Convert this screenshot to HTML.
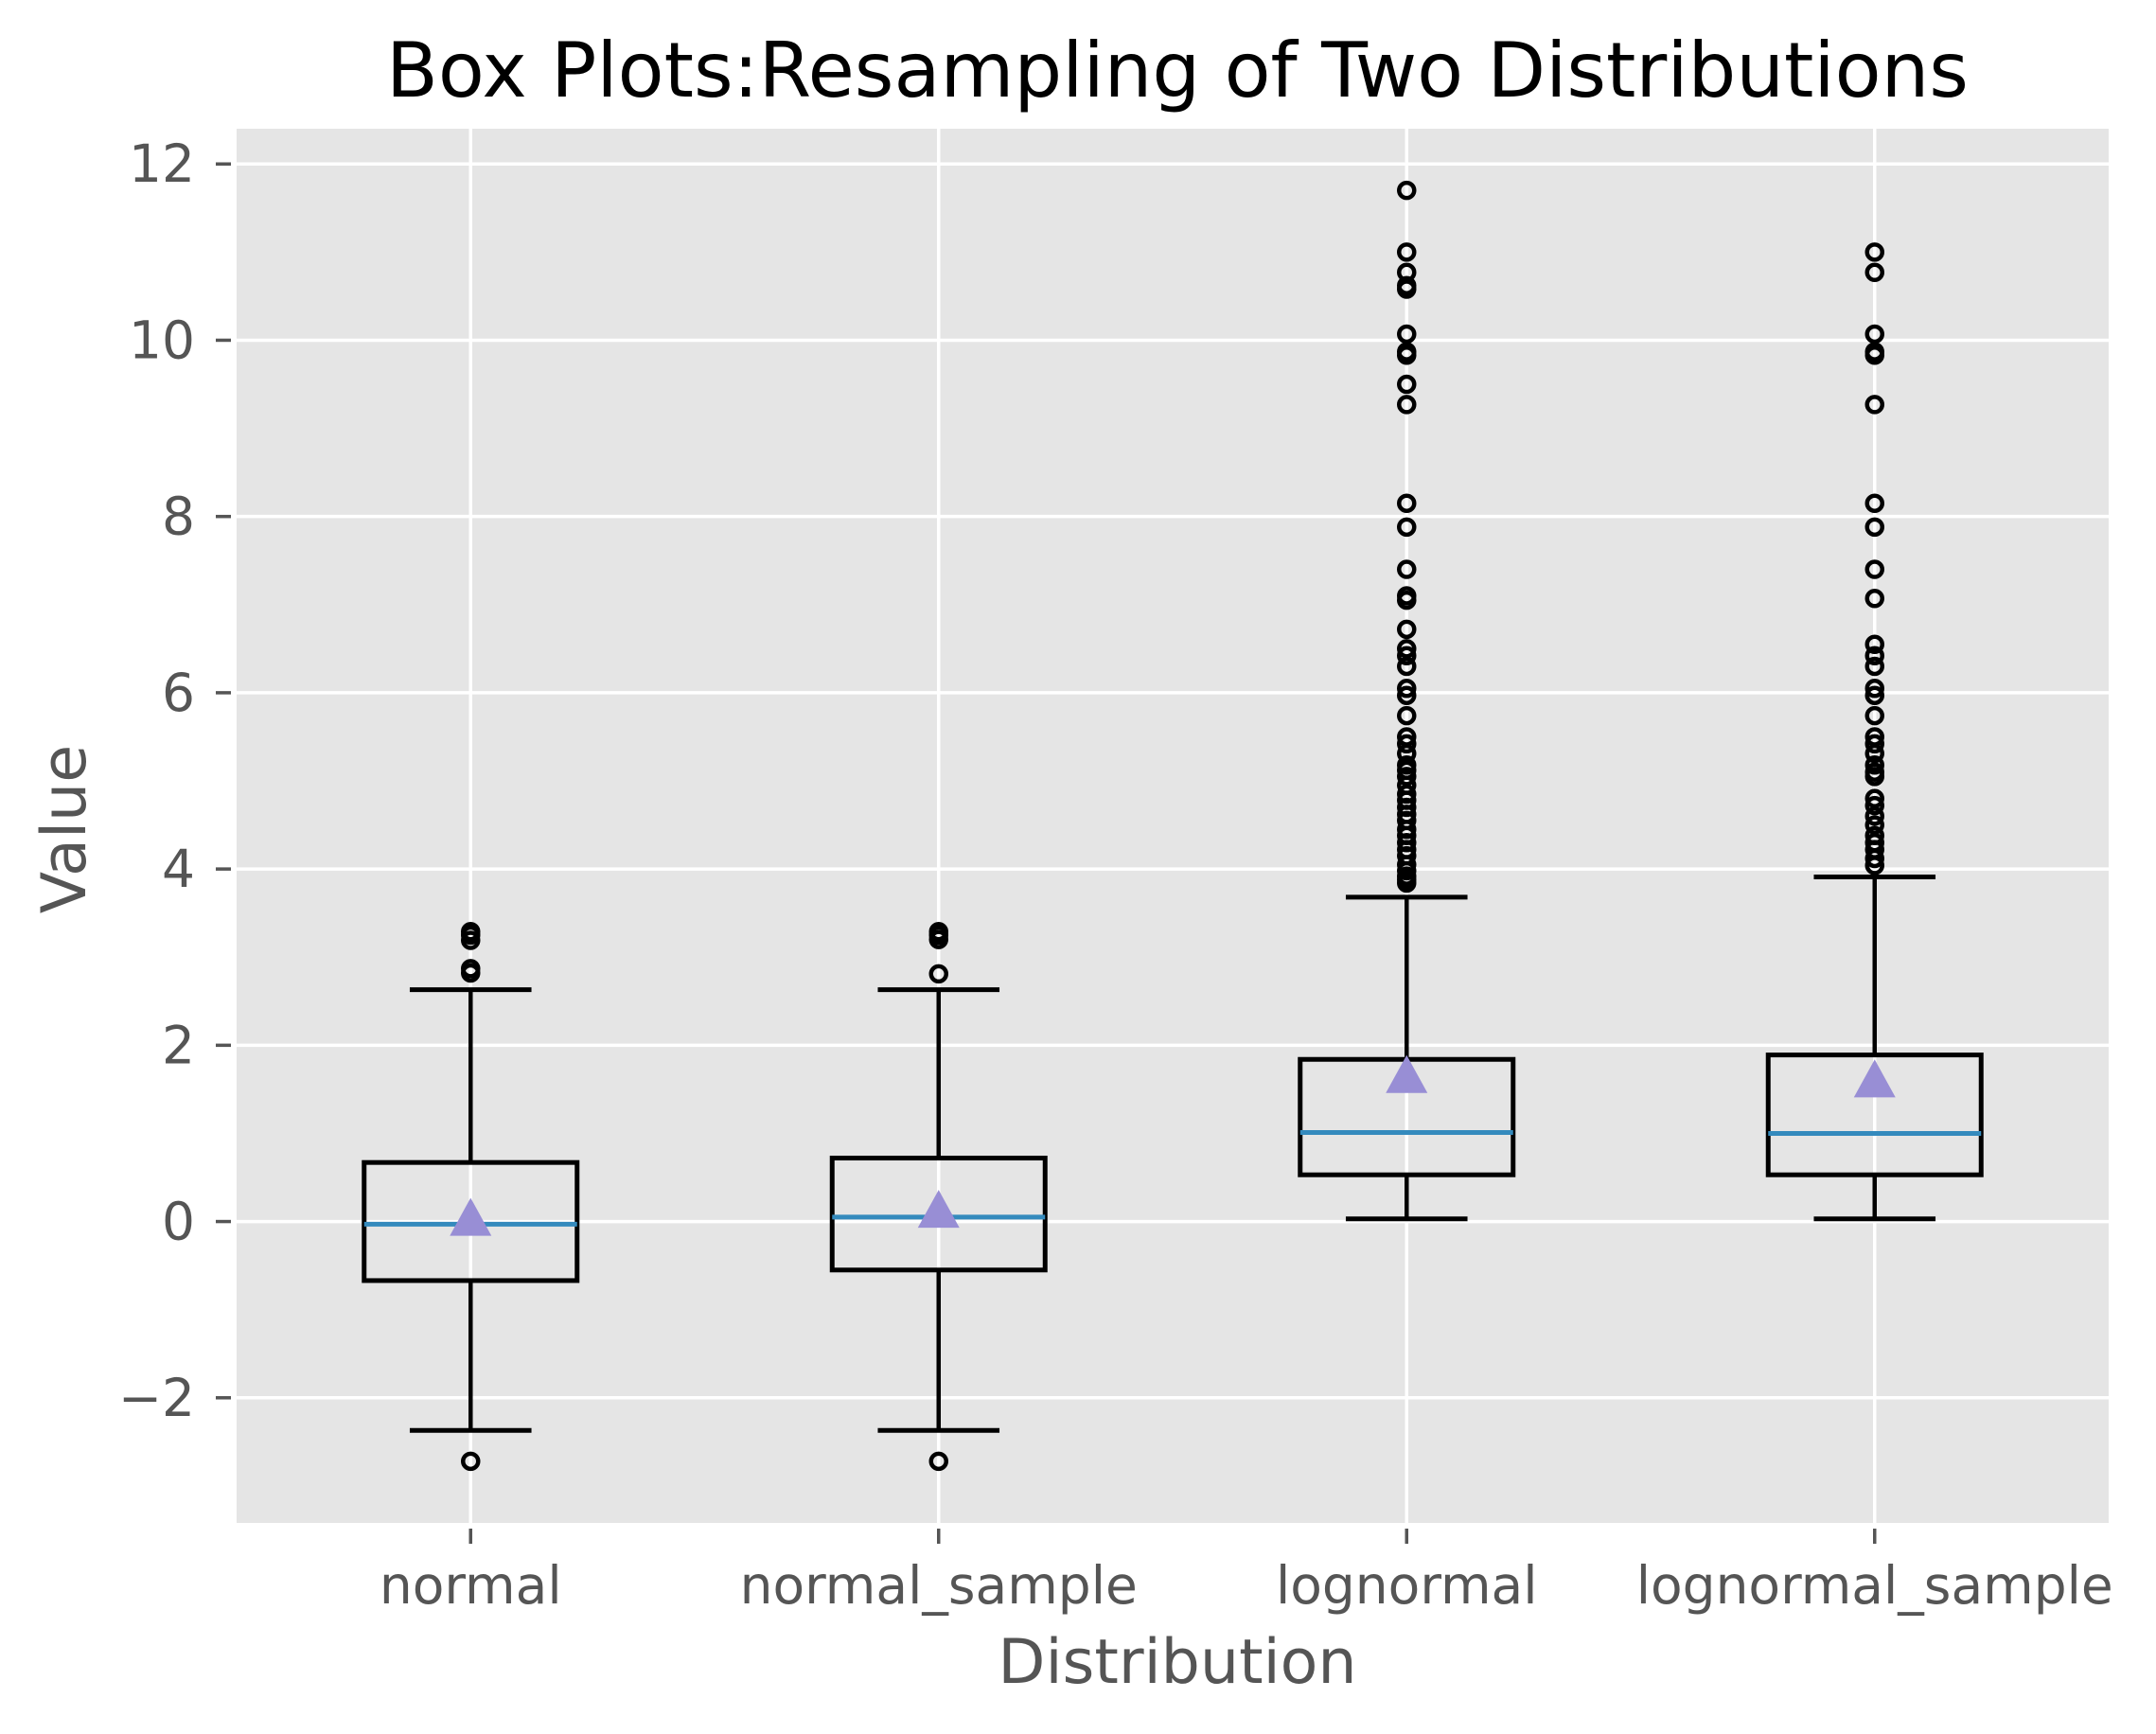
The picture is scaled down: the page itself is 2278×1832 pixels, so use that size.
<!DOCTYPE html>
<html><head><meta charset="utf-8"><title>Box Plots</title>
<style>html,body{margin:0;padding:0;background:#fff}svg{display:block}text{font-family:"DejaVu Sans","Liberation Sans",sans-serif}</style>
</head><body>
<svg id="chart" width="2278" height="1832" viewBox="0 0 2278 1832" xmlns="http://www.w3.org/2000/svg">
<rect x="250" y="136" width="1978" height="1473" fill="#E5E5E5"/>
<g id="grid"></g>
<g id="marks"></g>
<g id="axes"></g>
<text x="1244" y="102" font-size="80" text-anchor="middle" fill="#000">Box Plots:Resampling of Two Distributions</text>
<text x="1244" y="1778" font-size="65" text-anchor="middle" fill="#555">Distribution</text>
<text x="0" y="0" font-size="65" text-anchor="middle" fill="#555" transform="translate(90,876) rotate(-90)">Value</text>
</svg>
<script>
const categories = ["normal","normal_sample","lognormal","lognormal_sample"];
const q1s = [-0.67, -0.55, 0.53, 0.53];
const q3s = [0.67, 0.72, 1.84, 1.89];
const medians = [-0.03, 0.05, 1.01, 1.00];
const means = [0.0, 0.09, 1.62, 1.57];
const whiskerLow = [-2.37, -2.37, 0.03, 0.03];
const whiskerHigh = [2.63, 2.63, 3.68, 3.91];
const outliersNormal = [3.29, 3.25, 3.19, 2.87, 2.82, -2.72];
const outliersNormalSample = [3.29, 3.25, 3.2, 2.81, -2.72];
const outliersLognormal = [11.7, 11.0, 10.77, 10.62, 10.58, 10.07, 9.87, 9.83, 9.5, 9.27, 8.15, 7.88, 7.4, 7.1, 7.05, 6.72, 6.5, 6.42, 6.3, 6.05, 5.97, 5.74, 5.5, 5.42, 5.31, 5.18, 5.12, 5.05, 4.95, 4.85, 4.78, 4.7, 4.62, 4.55, 4.45, 4.38, 4.3, 4.22, 4.15, 4.05, 3.98, 3.92, 3.88, 3.84];
const outliersLognormalSample = [11.0, 10.77, 10.07, 9.87, 9.83, 9.27, 8.15, 7.88, 7.4, 7.07, 6.55, 6.42, 6.3, 6.05, 5.97, 5.74, 5.5, 5.42, 5.31, 5.18, 5.1, 5.05, 4.8, 4.72, 4.6, 4.5, 4.38, 4.3, 4.22, 4.12, 4.04];
const yTicks = [-2, 0, 2, 4, 6, 8, 10, 12];
const yTickLabels = ["\u22122", "0", "2", "4", "6", "8", "10", "12"];

const outliers = [outliersNormal, outliersNormalSample, outliersLognormal, outliersLognormalSample];
const NS = "http://www.w3.org/2000/svg";
const L = 250, R = 2228, T = 136, B = 1609;
const yMin = -3.42, yMax = 12.4;
function yScale(v){ return B - (v - yMin) / (yMax - yMin) * (B - T); }
function xScale(i){ return L + (i + 0.5) / categories.length * (R - L); }
function mk(tag, attrs, parent){ const e = document.createElementNS(NS, tag); for (const k in attrs) e.setAttribute(k, attrs[k]); parent.appendChild(e); return e; }
const grid = document.getElementById('grid'), marks = document.getElementById('marks'), axes = document.getElementById('axes');
const unit = (R - L) / categories.length;

yTicks.forEach((t, i) => {
  const y = yScale(t);
  const g = mk('line', {x1:L, x2:R, y1:y, y2:y, stroke:'#fff', 'stroke-width':3.5}, grid);
  
  
  const tk = mk('line', {x1:228, x2:244, y1:y, y2:y, stroke:'#555', 'stroke-width':3.5}, axes);
  
  
  const tx = mk('text', {x:206, y:y + 19, 'font-size':55, 'text-anchor':'end', fill:'#555'}, axes);
  tx.textContent = yTickLabels[i];
  
  
});
categories.forEach((c, i) => {
  const x = xScale(i);
  const g = mk('line', {x1:x, x2:x, y1:T, y2:B, stroke:'#fff', 'stroke-width':3.5}, grid);
  
  
  const tk = mk('line', {x1:x, x2:x, y1:B + 6, y2:B + 22, stroke:'#555', 'stroke-width':3.5}, axes);
  
  
  const tx = mk('text', {x:x, y:1694, 'font-size':55, 'text-anchor':'middle', fill:'#555'}, axes);
  tx.textContent = c;
  
  

  const grp = mk('g', {}, marks);
  
  
  const bw = 0.455 * unit, cw = 0.26 * unit;
  const yq1 = yScale(q1s[i]), yq3 = yScale(q3s[i]);
  const w1 = mk('line', {x1:x, x2:x, y1:yq1, y2:yScale(whiskerLow[i]), stroke:'#000', 'stroke-width':4.5}, grp);
  
  
  const w2 = mk('line', {x1:x, x2:x, y1:yq3, y2:yScale(whiskerHigh[i]), stroke:'#000', 'stroke-width':4.5}, grp);
  
  
  [whiskerLow[i], whiskerHigh[i]].forEach(v => {
    const cp = mk('line', {x1:x - cw/2, x2:x + cw/2, y1:yScale(v), y2:yScale(v), stroke:'#000', 'stroke-width':5}, grp);
    
    
  });
  const bx = mk('rect', {x:x - bw/2, y:yq3, width:bw, height:yq1 - yq3, fill:'none', stroke:'#000', 'stroke-width':5}, grp);
  
  
  const md = mk('line', {x1:x - bw/2, x2:x + bw/2, y1:yScale(medians[i]), y2:yScale(medians[i]), stroke:'#348ABD', 'stroke-width':5}, grp);
  
  
  const ym = yScale(means[i]);
  const tri = mk('polygon', {points:`${x},${ym - 25} ${x - 22},${ym + 15} ${x + 22},${ym + 15}`, fill:'#988ED5'}, grp);
  
  
  outliers[i].forEach(v => {
    const o = mk('circle', {cx:x, cy:yScale(v), r:8, fill:'none', stroke:'#000', 'stroke-width':4.5}, grp);
    
    
  });
});
</script>
</body></html>
